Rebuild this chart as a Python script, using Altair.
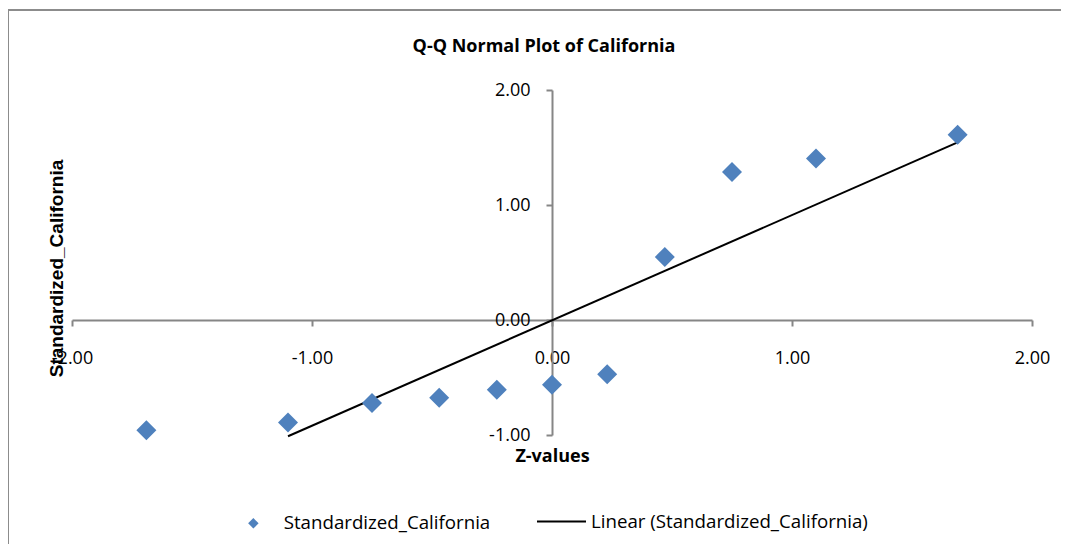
import altair as alt
import pandas as pd

# Data
Z_VALUES = [-1.69, -1.10, -0.75, -0.47, -0.23, 0.00, 0.23, 0.47, 0.75, 1.10, 1.69]
STD_CALIFORNIA = [-0.958, -0.891, -0.722, -0.676, -0.606, -0.563, -0.471, 0.548, 1.286, 1.405, 1.610]
SERIES_POINTS = "Standardized_California"
SERIES_TREND = "Linear (Standardized_California)"
TREND_EXTENT = [-1.10, 1.69]
X_TICKS = [-2, -1, 0, 1, 2]
Y_TICKS = [-1, 0, 1, 2]
TITLE = "Q-Q Normal Plot of California"

df = pd.DataFrame({"Z": Z_VALUES, "S": STD_CALIFORNIA, "series": SERIES_POINTS})

FONT = "Open Sans"
AXIS_GRAY = "#868686"
BLUE = "#4F81BD"
LABEL_EXPR = ("datum.value < 0 ? '-' + format(abs(datum.value), '.2f') "
              ": format(datum.value, '.2f')")

W, H = 960, 345

x_scale = alt.Scale(domain=[-2, 2], nice=False, zero=False)
y_scale = alt.Scale(domain=[-1, 2], nice=False, zero=False)

x_axis = alt.Axis(
    values=X_TICKS, labelExpr=LABEL_EXPR, offset=-115, grid=False,
    domainColor=AXIS_GRAY, domainWidth=2, tickColor=AXIS_GRAY, tickWidth=2, tickSize=6,
    labelFont=FONT, labelFontSize=18, labelColor="black", labelPadding=23,
    labelFlush=False, labelOverlap=False,
    title="Z-values", titleFont=FONT, titleFontSize=18, titleFontWeight="bold",
    titleColor="black", titleY=127, titleBaseline="top",
)
y_axis = alt.Axis(
    values=Y_TICKS, labelExpr=LABEL_EXPR, offset=-480, grid=False,
    domainColor=AXIS_GRAY, domainWidth=2, tickColor=AXIS_GRAY, tickWidth=2, tickSize=6,
    labelFont=FONT, labelFontSize=18, labelColor="black", labelPadding=16,
    labelFlush=False, labelOverlap=False,
    title="Standardized_California", titleFont="Liberation Sans", titleFontSize=19,
    titleFontWeight="bold", titleColor="black", titleX=-496, titleY=178,
    titleBaseline="middle", titleAngle=270,
)

frame = alt.Chart(alt.Data(values=[{}])).mark_rect(
    fill=None, stroke="#8c8c8c", strokeWidth=2
).encode(
    x=alt.value(-64), y=alt.value(-80), x2=alt.value(1200), y2=alt.value(700)
)

title = alt.Chart(alt.Data(values=[{}])).mark_text(
    text=TITLE, font=FONT, fontSize=18, fontWeight="bold", color="black",
    align="center", baseline="alphabetic",
).encode(x=alt.value(472), y=alt.value(-38))

points = alt.Chart(df).mark_point(
    shape="diamond", filled=True, size=400, opacity=1
).encode(
    x=alt.X("Z:Q", scale=x_scale, axis=x_axis),
    y=alt.Y("S:Q", scale=y_scale, axis=y_axis),
    fill=alt.Fill(
        "series:N",
        scale=alt.Scale(domain=[SERIES_POINTS], range=[BLUE]),
        legend=alt.Legend(
            orient="none", legendX=172, legendY=424, title=None,
            symbolType="diamond", symbolSize=110, symbolStrokeWidth=0,
            labelFont=FONT, labelFontSize=18.7, labelColor="black", labelOffset=21,
            labelLimit=0,
        ),
    ),
)

trend = alt.Chart(df).transform_regression(
    "Z", "S", extent=TREND_EXTENT
).transform_calculate(
    trend=f"'{SERIES_TREND}'"
).mark_line(strokeWidth=2).encode(
    x=alt.X("Z:Q", scale=x_scale),
    y=alt.Y("S:Q", scale=y_scale),
    stroke=alt.Stroke(
        "trend:N",
        scale=alt.Scale(domain=[SERIES_TREND], range=["black"]),
        legend=alt.Legend(
            orient="none", legendX=464, legendY=406, title=None,
            symbolType="stroke", symbolSize=2401, symbolStrokeWidth=2,
            labelFont=FONT, labelFontSize=18.7, labelColor="black", labelOffset=4,
            labelLimit=0,
        ),
    ),
)

chart = alt.layer(frame, title, trend, points).properties(
    width=W, height=H,
    autosize=alt.AutoSizeParams(type="none"),
    padding={"left": 64, "top": 82, "right": 29, "bottom": 109},
).configure(
    background="white",
    view=alt.ViewConfig(strokeWidth=0, stroke="transparent"),
)

chart.save("out.html", embed_options={"renderer": "svg", "actions": False})
